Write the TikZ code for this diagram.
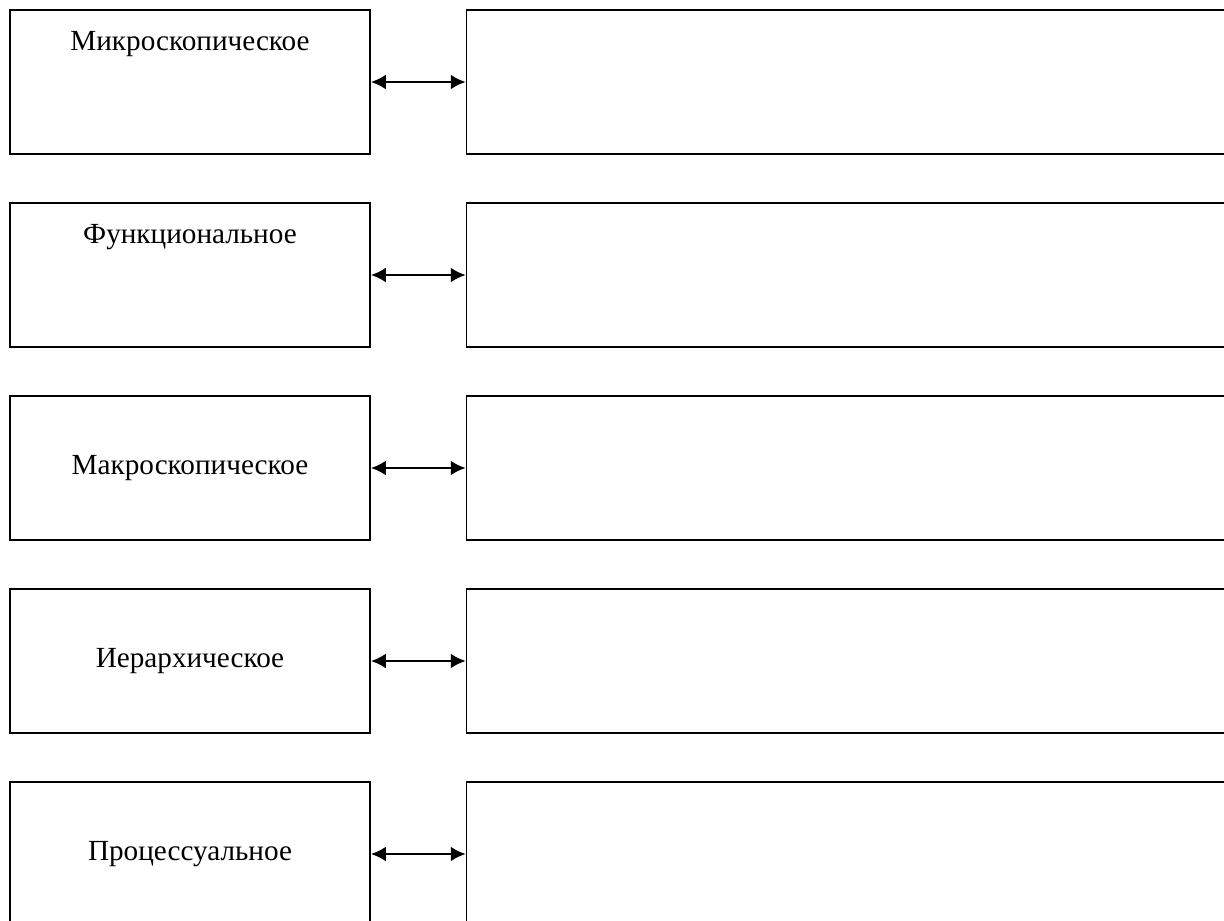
\documentclass[tikz,border=0pt]{standalone}
\usepackage{fontspec}
\setmainfont{Liberation Serif}
\usetikzlibrary{positioning,arrows.meta}
\tikzset{
	lbox/.style={draw,line width=0.8pt,minimum width=180pt,minimum height=72pt,inner sep=0pt,font=\fontsize{14.6}{17}\selectfont},
	rbox/.style={draw,line width=0.8pt,minimum width=420pt,minimum height=72pt},
	toptext/.style={anchor=base,yshift=-20.5pt,inner sep=0pt,font=\fontsize{14.6}{17}\selectfont},
	link/.style={<->,>={Latex[length=7.5pt,width=7.5pt]},line width=1.4pt}
}
\begin{document}
\begin{tikzpicture}[x=0.5pt,y=-0.5pt]
			\useasboundingbox (0,0) rectangle (1224,920);
			\clip (0,0) rectangle (1224,920);

			% левый столбец
			\node[lbox,label={[toptext,name=t1]north:Микроскопическое}] (lb1) at (190,82) {};
			\node[lbox,label={[toptext,name=t2]north:Функциональное}] (lb2) at (190,275) {};
			\node[lbox] (lb3) at (190,468) {Макроскопическое};
			\node[lbox] (lb4) at (190,661) {Иерархическое};
			\node[lbox] (lb5) at (190,854) {Процессуальное};

			% правый столбец
			\node[rbox,right=47.5pt of lb1] (rb1) {};
			\node[rbox,right=47.5pt of lb2] (rb2) {};
			\node[rbox,right=47.5pt of lb3] (rb3) {};
			\node[rbox,right=47.5pt of lb4] (rb4) {};
			\node[rbox,right=47.5pt of lb5] (rb5) {};

			% связи
			\begin{scope}[link]
			\draw (lb1) -- (rb1);
			\draw (lb2) -- (rb2);
			\draw (lb3) -- (rb3);
			\draw (lb4) -- (rb4);
			\draw (lb5) -- (rb5);
			\end{scope}
		    \end{tikzpicture}
\end{document}
